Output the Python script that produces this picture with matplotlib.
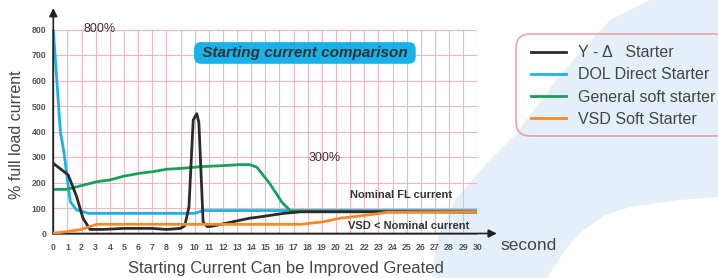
import matplotlib
matplotlib.use("Agg")
import matplotlib.pyplot as plt
from matplotlib.patches import Polygon, FancyBboxPatch

plt.rcParams['font.family'] = ['Liberation Sans', 'DejaVu Sans']

# data (seconds, % full load current)
yd_t = [0, 1.05, 1.65, 2.1, 2.6, 3.5, 5, 6, 7, 8, 9, 9.3, 9.6, 9.9, 10.15, 10.3, 10.6, 10.9, 11.3, 12.7, 13.9, 14.6, 16.3, 17.5, 30]
yd_v = [275, 230, 145, 60, 16, 16, 20, 20, 20, 16, 20, 30, 105, 445, 470, 435, 45, 27, 29, 46, 60, 65, 79, 85, 85]

dol_t = [0, 0.5, 0.75, 1.2, 1.65, 2.5, 10.0, 10.6, 30]
dol_v = [800, 400, 320, 125, 92, 79, 79, 90, 90]

soft_t = [0, 0.9, 1.65, 3.07, 4, 5, 6.1, 7.1, 8, 9.2, 10.4, 11.6, 13.2, 13.9, 14.4, 15.3, 16.2, 16.8, 30]
soft_v = [173, 173, 183, 203, 210, 225, 236, 243, 252, 256, 262, 265, 270, 270, 260, 197, 121, 88, 84]

vsd_t = [0, 0.9, 2.0, 3.07, 17.5, 19.1, 20.3, 22.2, 23.6, 30]
vsd_v = [1, 7, 16, 36, 36, 46, 60, 72, 83, 86]

labels = ["Y - Δ   Starter", "DOL Direct Starter", "General soft starter", "VSD Soft Starter"]
colors = ["#2b2b2b", "#1ab2ea", "#18a05a", "#f5892c"]

xticks = list(range(0, 31))
yticks = list(range(0, 801, 100))

W, H = 718, 278
fig = plt.figure(figsize=(W / 100, H / 100), dpi=100)

def fx(x):
    return x / W

def fy(y):
    return 1 - y / H

# light blue background shape
bg = [(650, 0), (718, 0), (718, 197), (680, 200), (630, 207), (605, 215), (580, 233),
      (565, 250), (547, 278), (432, 278), (437, 240), (455, 200), (485, 165),
      (515, 135), (560, 75), (610, 20)]
fig.patches.append(Polygon([(fx(a), fy(b)) for a, b in bg], closed=True,
                           transform=fig.transFigure, fc="#e4effa", ec="none", zorder=-10))

ax = fig.add_axes([fx(53.3), fy(233.5), fx(477.3) - fx(53.3), fy(29.5) - fy(233.5)])
ax.set_zorder(2)
ax.set_facecolor("none")
ax.set_xlim(0, 30)
ax.set_ylim(0, 800)
ax.set_xticks(xticks)
ax.set_yticks(yticks)
ax.grid(True, color="#f2b5bd", lw=0.8)
ax.set_axisbelow(True)
for s in ax.spines.values():
    s.set_visible(False)
ax.tick_params(length=0, labelsize=6.3, labelcolor="#555")
ax.tick_params(axis="x", pad=7)
ax.tick_params(axis="y", pad=5)
for lab in ax.get_xticklabels() + ax.get_yticklabels():
    lab.set_fontweight("bold")

ax.plot(dol_t, dol_v, color=colors[1], lw=2, label=labels[1], zorder=3)
ax.plot(soft_t, soft_v, color=colors[2], lw=2, label=labels[2], zorder=3)
ax.plot(yd_t, yd_v, color=colors[0], lw=2, label=labels[0], zorder=4)
ax.plot(vsd_t, vsd_v, color=colors[3], lw=2, label=labels[3], zorder=5)

# axis arrows
ax.annotate("", xy=(1.046, 0), xytext=(0, 0), xycoords="axes fraction",
            arrowprops=dict(arrowstyle="-|>", color="#222", lw=1.2, mutation_scale=12,
                            shrinkA=0, shrinkB=0), annotation_clip=False)
ax.annotate("", xy=(0, 1.105), xytext=(0, 0), xycoords="axes fraction",
            arrowprops=dict(arrowstyle="-|>", color="#222", lw=1.2, mutation_scale=12,
                            shrinkA=0, shrinkB=0), annotation_clip=False)
ax.plot([0, 30], [0, 0], color="#888", lw=1.3, clip_on=False, zorder=2)
ax.plot([0, 0], [0, 800], color="#888", lw=1.3, clip_on=False, zorder=2)

ax.text(3.3, 800, "800%", fontsize=9, color="#333", ha="center", va="center")
ax.text(19.2, 296, "300%", fontsize=9, color="#333", ha="center", va="center")
ax.text(21.0, 151, "Nominal FL current", fontsize=8, fontweight="bold", color="#333", va="center")
ax.text(20.85, 29, "VSD < Nominal current", fontsize=8, fontweight="bold", color="#333", va="center")
ax.text(17.8, 708, " Starting current comparison ", fontsize=11, fontweight="bold",
        fontstyle="italic", color="#333", ha="center", va="center",
        bbox=dict(boxstyle="round,pad=0.25,rounding_size=0.45", fc="#1ab0e8", ec="none"))

fig.text(fx(17), fy(135), "% full load current", rotation=90, fontsize=11.5, color="#444",
         ha="center", va="center")
fig.text(fx(286), fy(268), "Starting Current Can be Improved Greated", fontsize=12, color="#444",
         ha="center", va="center")
fig.text(fx(500), fy(246), "second", fontsize=12.5, color="#444", ha="left", va="center")

# legend
fig.patches.append(FancyBboxPatch((fx(516), fy(136)), fx(730) - fx(516), fy(34) - fy(136),
                                  boxstyle="round,pad=0,rounding_size=0.02",
                                  transform=fig.transFigure, fc="none", ec="#f0a0a8", lw=1.2,
                                  mutation_aspect=W / H, zorder=1))
h, l = ax.get_legend_handles_labels()
order = [2, 0, 1, 3]
fig.legend([h[i] for i in order], [l[i] for i in order], loc="upper left",
           bbox_to_anchor=(fx(520), fy(34)), frameon=False, fontsize=11.5,
           handlelength=2.2, handletextpad=0.75, labelspacing=0.45, borderpad=0.2,
           labelcolor="#444")

fig.savefig("out.png", dpi=100)
